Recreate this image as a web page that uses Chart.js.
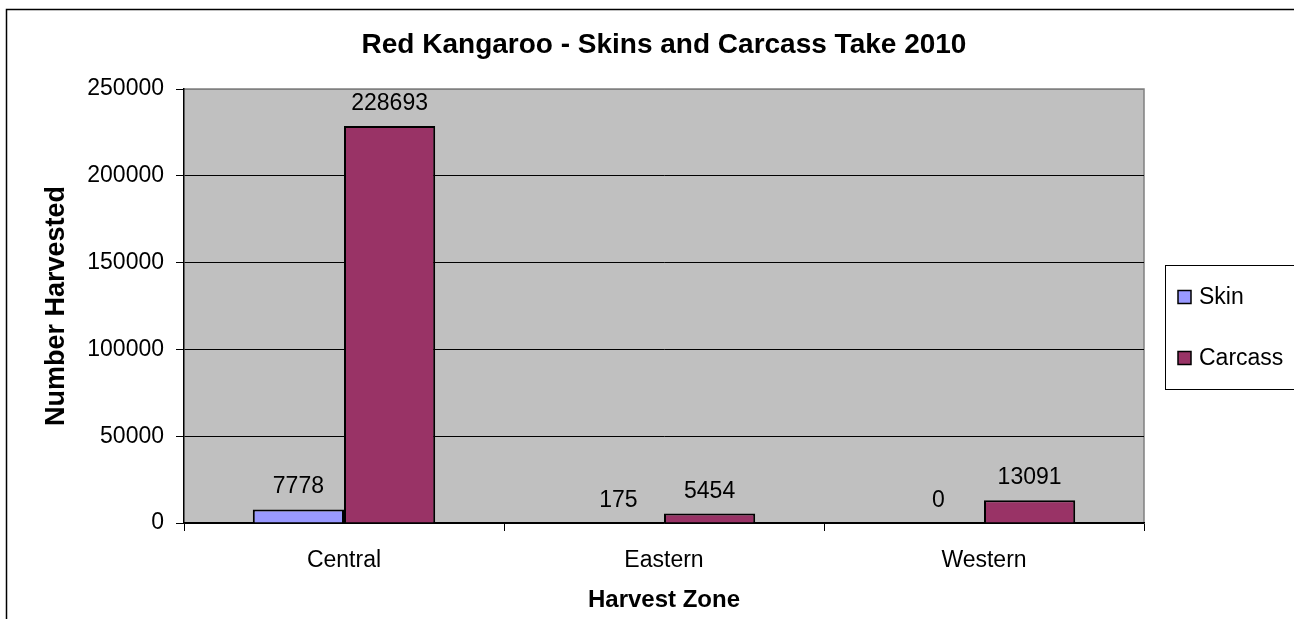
<!DOCTYPE html>
<html>
<head>
<meta charset="utf-8">
<title>Red Kangaroo - Skins and Carcass Take 2010</title>
<script src="https://cdn.jsdelivr.net/npm/chart.js@4.4.0/dist/chart.umd.min.js"></script>
<style>
  html, body { margin: 0; padding: 0; background: #fff; overflow: hidden; }
  canvas { display: block; }
</style>
</head>
<body>
<canvas id="takeChart" width="1294" height="619"></canvas>
<script>
// Data
const zones = ['Central', 'Eastern', 'Western'];
const skinValues = [7778, 175, 0];
const carcassValues = [228693, 5454, 13091];
const yTicks = [0, 50000, 100000, 150000, 200000, 250000];

const chartTitle = 'Red Kangaroo - Skins and Carcass Take 2010';
const fontFamily = '"Liberation Sans", Arial, sans-serif';

Chart.defaults.font.family = fontFamily;
Chart.defaults.color = '#000';

// Grey plot background, grey top/right edge and the outer chart frame
const backgroundPlugin = {
  id: 'background',
  beforeDraw(chart) {
    const { ctx, chartArea: a } = chart;
    ctx.save();
    ctx.fillStyle = '#C0C0C0';
    ctx.fillRect(a.left, a.top, a.right - a.left, a.bottom - a.top);
    ctx.strokeStyle = '#808080';
    ctx.lineWidth = 1.5;
    ctx.beginPath();
    ctx.moveTo(a.left, a.top);
    ctx.lineTo(a.right, a.top);
    ctx.lineTo(a.right, a.bottom);
    ctx.stroke();
    // outer frame, runs off the right and bottom edges like the reference
    ctx.strokeStyle = '#000';
    ctx.lineWidth = 1.5;
    ctx.strokeRect(6.5, 9.5, 1400, 700);
    ctx.restore();
  }
};

// Title centred over the plot area
const titlePlugin = {
  id: 'plotTitle',
  afterDraw(chart) {
    const { ctx, chartArea: a } = chart;
    ctx.save();
    ctx.font = 'bold 28px ' + fontFamily;
    ctx.fillStyle = '#000';
    ctx.textAlign = 'center';
    ctx.textBaseline = 'alphabetic';
    ctx.fillText(chartTitle, (a.left + a.right) / 2, 53);
    ctx.restore();
  }
};

// Value labels above every bar
const valueLabelPlugin = {
  id: 'valueLabels',
  afterDatasetsDraw(chart) {
    const { ctx } = chart;
    ctx.save();
    ctx.font = '23px ' + fontFamily;
    ctx.fillStyle = '#000';
    ctx.textAlign = 'center';
    ctx.textBaseline = 'alphabetic';
    chart.data.datasets.forEach((ds, i) => {
      chart.getDatasetMeta(i).data.forEach((bar, j) => {
        ctx.fillText(String(ds.data[j]), bar.x, bar.y - 16);
      });
    });
    ctx.restore();
  }
};

// Boxed legend at the right, cut by the page edge
const legendPlugin = {
  id: 'boxLegend',
  afterDraw(chart) {
    const { ctx } = chart;
    const boxLeft = 1165, boxTop = 265, boxBottom = 389;
    const rowY = [297, 358];
    ctx.save();
    ctx.strokeStyle = '#000';
    ctx.lineWidth = 1;
    ctx.strokeRect(boxLeft + 0.5, boxTop + 0.5, 200, boxBottom - boxTop);
    ctx.font = '23px ' + fontFamily;
    ctx.textBaseline = 'middle';
    chart.data.datasets.forEach((ds, i) => {
      const y = rowY[i];
      ctx.fillStyle = ds.backgroundColor;
      ctx.fillRect(1178, y - 6.5, 13, 13);
      ctx.lineWidth = 1.5;
      ctx.strokeRect(1178, y - 6.5, 13, 13);
      ctx.fillStyle = '#000';
      ctx.fillText(ds.label, 1199, y + 1);
    });
    ctx.restore();
  }
};

const ctx = document.getElementById('takeChart').getContext('2d');

new Chart(ctx, {
  type: 'bar',
  data: {
    labels: zones,
    datasets: [
      {
        label: 'Skin',
        data: skinValues,
        backgroundColor: '#9999FF',
        borderColor: '#000',
        borderWidth: 2,
        categoryPercentage: 0.57,
        barPercentage: 1.0
      },
      {
        label: 'Carcass',
        data: carcassValues,
        backgroundColor: '#993366',
        borderColor: '#000',
        borderWidth: 2,
        categoryPercentage: 0.57,
        barPercentage: 1.0
      }
    ]
  },
  options: {
    responsive: false,
    animation: false,
    events: [],
    layout: { padding: { left: 0, top: 89, right: 150, bottom: 0 } },
    plugins: {
      legend: { display: false },
      title: { display: false },
      tooltip: { enabled: false }
    },
    scales: {
      x: {
        afterFit(scale) { scale.height = 96; },
        grid: {
          drawOnChartArea: false,
          drawTicks: true,
          tickLength: 8,
          color: '#000',
          offset: true
        },
        border: { color: '#000', width: 1.5 },
        ticks: { font: { size: 23 }, color: '#000', padding: 16 },
        title: {
          display: true,
          text: 'Harvest Zone',
          font: { size: 24, weight: 'bold' },
          color: '#000',
          padding: { top: 0, bottom: 4 }
        }
      },
      y: {
        min: 0,
        max: 250000,
        afterFit(scale) { scale.width = 184; },
        afterBuildTicks(scale) {
          scale.ticks = yTicks.map(v => ({ value: v }));
        },
        grid: {
          color: c => (c.tick && c.tick.value === 250000 ? '#808080' : '#000'),
          tickColor: '#000',
          tickLength: 8,
          lineWidth: 1
        },
        border: { color: '#000', width: 1.5 },
        ticks: {
          font: { size: 23 },
          color: '#000',
          padding: 12,
          callback: v => String(v) // plain numbers, no thousands separator
        },
        title: {
          display: true,
          text: 'Number Harvested',
          font: { size: 27, weight: 'bold' },
          color: '#000',
          padding: { top: 40, bottom: 0 }
        }
      }
    }
  },
  plugins: [backgroundPlugin, titlePlugin, valueLabelPlugin, legendPlugin]
});
</script>
</body>
</html>
